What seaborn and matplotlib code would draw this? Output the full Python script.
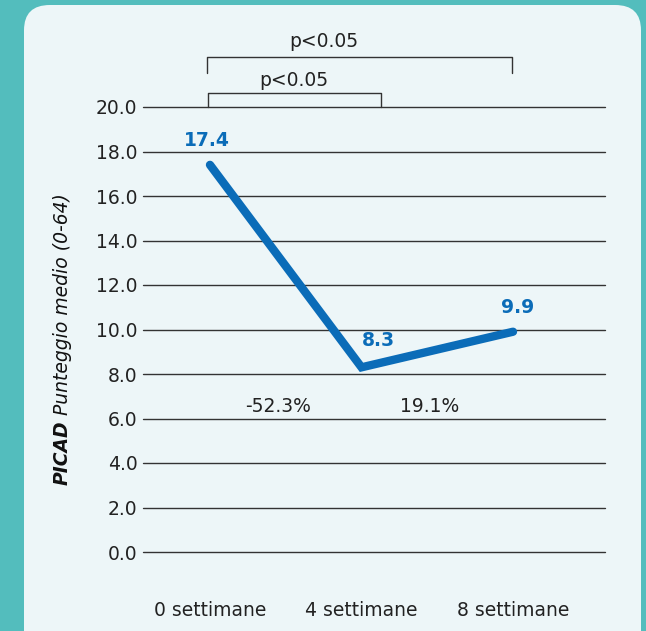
import numpy as np
import matplotlib
matplotlib.use("Agg")
import matplotlib.pyplot as plt
from matplotlib.patches import FancyBboxPatch
import seaborn as sns
import pandas as pd

settimane = ["0 settimane", "4 settimane", "8 settimane"]
punteggio = [17.4, 8.3, 9.9]
variazioni = ["-52.3%", "19.1%"]
yticks = [0, 2, 4, 6, 8, 10, 12, 14, 16, 18, 20]

blu = "#0b6cb8"
teal = "#53bdbd"
pannello = "#edf6f8"

sns.set_style("white")
plt.rcParams["font.family"] = ["DejaVu Sans"]

fig = plt.figure(figsize=(6.46, 6.31), dpi=100)
fig.patch.set_facecolor(teal)

# pannello arrotondato
W, H = 646, 631
box = FancyBboxPatch((24 / W, -0.05), (641 - 24) / W, (H - 5) / H + 0.05,
                     boxstyle="round,pad=0,rounding_size=0.04",
                     transform=fig.transFigure, facecolor=pannello,
                     edgecolor="none", zorder=-5)
fig.patches.append(box)

ax = fig.add_axes([143 / W, 79 / H, 462 / W, 445 / H])
ax.set_facecolor("none")
ax.set_zorder(2)

df = pd.DataFrame({"x": np.arange(len(settimane)), "y": punteggio})
sns.lineplot(data=df, x="x", y="y", ax=ax, color=blu, linewidth=6,
             solid_capstyle="round", solid_joinstyle="miter")

ax.set_xlim(-0.442, 2.607)
ax.set_ylim(0, 20)
ax.set_yticks(yticks)
ax.set_yticklabels([f"{v:.1f}" for v in yticks], fontsize=13.5, color="#222222")
ax.set_xticks(range(len(settimane)))
ax.set_xticklabels(settimane, fontsize=13.5, color="#222222")
ax.tick_params(axis="y", length=0, pad=4)
ax.tick_params(axis="x", length=0, pad=35)
ax.yaxis.grid(True, color="#333333", linewidth=1)
for gl in ax.get_ygridlines():
    gl.set_clip_on(False)
ax.xaxis.grid(False)
for s in ax.spines.values():
    s.set_visible(False)
ax.set_xlabel("")
ax.set_ylabel("")

# etichette valori
offs = [(-0.02, 18.5), (1.11, 9.5), (2.03, 11.0)]
for (xx, yy), v in zip(offs, punteggio):
    ax.text(xx, yy, f"{v}", color=blu, fontsize=13.5, fontweight="bold",
            ha="center", va="center")

# variazioni percentuali
for xx, t in zip([0.45, 1.45], variazioni):
    ax.text(xx, 6.56, t, fontsize=13.5, color="#222222", ha="center", va="center")

# parentesi di significativita
def parentesi(x0, x1, ytop, ybot, testo, ytesto, xtesto):
    ax.plot([x0, x0, x1, x1], [ybot, ytop, ytop, ybot], color="#333333",
            linewidth=1, clip_on=False)
    ax.text(xtesto, ytesto, testo, fontsize=13.5, color="#222222",
            ha="center", va="center", clip_on=False)

parentesi(-0.02, 1.99, 22.25, 21.55, "p<0.05", 22.95, 0.75)
parentesi(-0.01, 1.13, 20.62, 20.0, "p<0.05", 21.2, 0.55)

# etichetta asse y (PICAD in grassetto)
t1 = fig.text(62 / W, (H - 485) / H, "PICAD", rotation=90, fontsize=13.5,
              fontweight="bold", fontstyle="italic", ha="center", va="bottom",
              color="#111111")
fig.canvas.draw()
top = t1.get_window_extent().y1
fig.text(62 / W, (top + 5) / H, "Punteggio medio (0-64)", rotation=90,
         fontsize=13.5, fontstyle="italic", ha="center", va="bottom",
         color="#111111")

fig.savefig("out.png", dpi=100, facecolor=fig.get_facecolor())
